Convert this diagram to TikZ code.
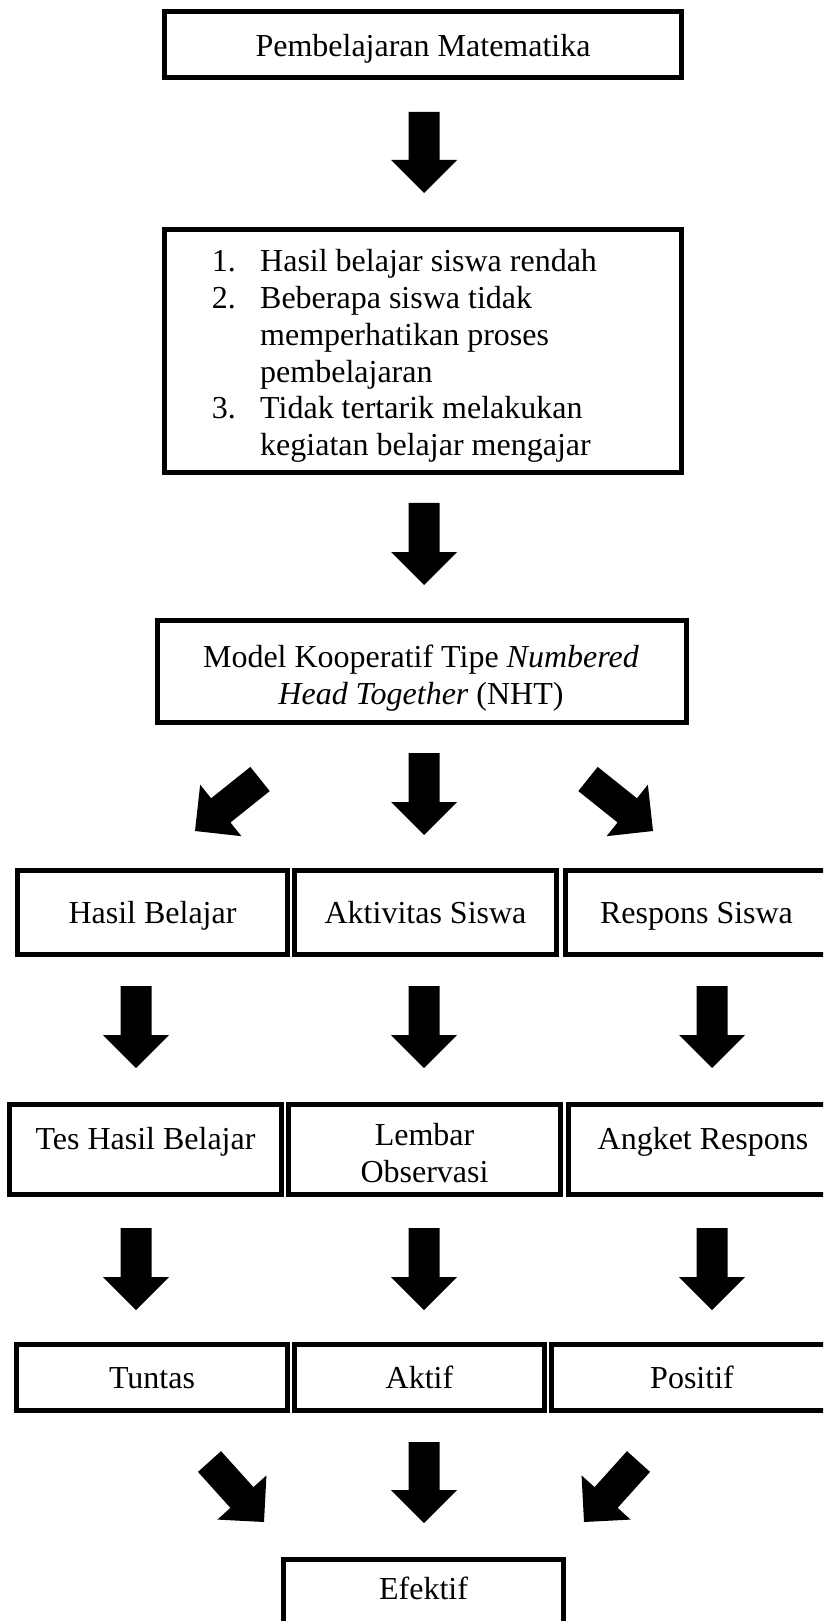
\documentclass[tikz,border=0pt]{standalone}
\usepackage{fontspec}
\setmainfont{Liberation Serif}
\usetikzlibrary{calc}
\tikzset{
  txt/.style={font=\fontsize{12pt}{13.9pt}\selectfont},
  box/.style={draw=black, line width=1.875pt, fill=white, inner sep=0pt, txt,
    text height=9pt, text depth=1.125pt},
  lbl/.style={inner sep=0pt, txt},
  arr/.style={fill=black, draw=none},
}
\newcommand{\blockarrow}[3]{%
  \coordinate (#1-m) at ($(#3)!12.375pt!(#2)$);
  \fill[arr] ($(#2)!5.8125pt!90:(#3)$) -- ($(#1-m)!5.8125pt!90:(#3)$)
    -- ($(#1-m)!12.375pt!90:(#3)$) -- (#3)
    -- ($(#1-m)!12.375pt!-90:(#3)$) -- ($(#1-m)!5.8125pt!-90:(#3)$)
    -- ($(#2)!5.8125pt!-90:(#3)$) -- cycle;
}
\begin{document}
\begin{tikzpicture}[x=0.375pt, y=-0.375pt]
\useasboundingbox (0,0) rectangle (823,1621);
\fill[white] (0,0) rectangle (823,1621);
\clip (0,0) rectangle (823,1621);

% boxes
\node[box, minimum width=193.9pt, minimum height=24.75pt, text depth=0pt] (b1) at (423,44.5) {Pembelajaran Matematika};
\node[box, minimum width=193.9pt, minimum height=91.1pt] (b2) at (423,351) {};
\node[lbl, anchor=base west, font=\fontsize{12pt}{13.8pt}\selectfont] (b2t) at (211.4,271.7)
  {\begin{tabular}[t]{@{}l@{}l@{}}
   \makebox[18.1pt][l]{1.} & Hasil belajar siswa rendah\\
   \makebox[18.1pt][l]{2.} & Beberapa siswa tidak\\
    & memperhatikan proses\\
    & pembelajaran\\
   \makebox[18.1pt][l]{3.} & Tidak tertarik melakukan\\
    & kegiatan belajar mengajar
   \end{tabular}};
\node[box, minimum width=198.4pt, minimum height=38.25pt] (b3) at (422,671.5) {};
\node[lbl, anchor=base, font=\fontsize{12pt}{14.1pt}\selectfont] (b3t) at (421,667)
  {\begin{tabular}[t]{@{}c@{}}Model Kooperatif Tipe \textit{Numbered}\\\textit{Head Together} (NHT)\end{tabular}};

% row 4
\node[box, minimum width=101.25pt, minimum height=31.5pt] (r4a) at (152.5,912.5) {Hasil Belajar};
\node[box, minimum width=98.25pt, minimum height=31.5pt] (r4b) at (425.5,912.5) {Aktivitas Siswa};
\node[box, minimum width=98.25pt, minimum height=31.5pt] (r4c) at (696.5,912.5) {Respons Siswa};

% row 5
\node[box, minimum width=102pt, minimum height=33.75pt, text height=5pt, text depth=5pt] (r5a) at (145.5,1149.5) {Tes Hasil Belajar};
\node[box, minimum width=102pt, minimum height=33.75pt] (r5b) at (424.5,1149.5) {};
\node[lbl, anchor=base, font=\fontsize{12pt}{13.875pt}\selectfont] (r5bt) at (424.5,1145)
  {\begin{tabular}[t]{@{}c@{}}Lembar\\Observasi\end{tabular}};
\node[box, minimum width=100.9pt, minimum height=33.75pt, text height=5pt, text depth=5pt] (r5c) at (703,1149.5) {Angket Respons};

% row 6
\node[box, minimum width=101.6pt, minimum height=24.75pt] (r6a) at (152,1377.5) {Tuntas};
\node[box, minimum width=93.75pt, minimum height=24.75pt] (r6b) at (419.5,1377.5) {Aktif};
\node[box, minimum width=105.4pt, minimum height=24.75pt] (r6c) at (692,1377.5) {Positif};

% final
\node[box, minimum width=105pt, minimum height=29.25pt, text height=5.5pt, text depth=4.4pt] (ef) at (423.5,1598.5) {Efektif};

% arrows
\coordinate (a1t) at (424,112);  \coordinate (a1h) at (424,193);
\coordinate (a2t) at (424,503);  \coordinate (a2h) at (424,585);
\coordinate (a3lt) at (260,779); \coordinate (a3lh) at (195,831);
\coordinate (a3ct) at (424,753); \coordinate (a3ch) at (424,835);
\coordinate (a3rt) at (588,779); \coordinate (a3rh) at (653,831);
\coordinate (a4at) at (136,986); \coordinate (a4ah) at (136,1068);
\coordinate (a4bt) at (424,986); \coordinate (a4bh) at (424,1068);
\coordinate (a4ct) at (712,986); \coordinate (a4ch) at (712,1068);
\coordinate (a5at) at (136,1228); \coordinate (a5ah) at (136,1310);
\coordinate (a5bt) at (424,1228); \coordinate (a5bh) at (424,1310);
\coordinate (a5ct) at (712,1228); \coordinate (a5ch) at (712,1310);
\coordinate (a7lt) at (209.5,1461.5); \coordinate (a7lh) at (264,1522);
\coordinate (a7ct) at (424,1442); \coordinate (a7ch) at (424,1523);
\coordinate (a7rt) at (638.5,1461.5); \coordinate (a7rh) at (584,1522);

\blockarrow{a1}{a1t}{a1h}
\blockarrow{a2}{a2t}{a2h}
\blockarrow{a3l}{a3lt}{a3lh}
\blockarrow{a3c}{a3ct}{a3ch}
\blockarrow{a3r}{a3rt}{a3rh}
\blockarrow{a4a}{a4at}{a4ah}
\blockarrow{a4b}{a4bt}{a4bh}
\blockarrow{a4c}{a4ct}{a4ch}
\blockarrow{a5a}{a5at}{a5ah}
\blockarrow{a5b}{a5bt}{a5bh}
\blockarrow{a5c}{a5ct}{a5ch}
\blockarrow{a7l}{a7lt}{a7lh}
\blockarrow{a7c}{a7ct}{a7ch}
\blockarrow{a7r}{a7rt}{a7rh}
\end{tikzpicture}
\end{document}
